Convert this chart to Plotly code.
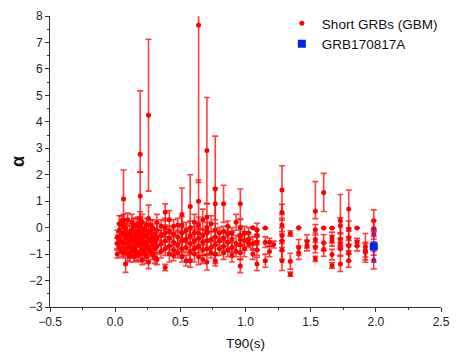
"""Spectral index alpha versus T90 for short GRBs observed by Fermi/GBM."""

import plotly.graph_objects as go

# ---- short GRBs (GBM): T90 [s], alpha, upper / lower error ----
t90 = [
    0.016, 0.016, 0.016,
    0.032, 0.032, 0.032, 0.032,
    0.048, 0.048, 0.048, 0.048,
    0.064, 0.064, 0.064, 0.064, 0.064, 0.064,
    0.080, 0.080, 0.080, 0.080, 0.080,
    0.096, 0.096, 0.096, 0.096,
    0.112, 0.112, 0.112, 0.112,
    0.128, 0.128, 0.128, 0.128, 0.128,
    0.144, 0.144, 0.144, 0.144, 0.144,
    0.160, 0.160, 0.160, 0.160, 0.160,
    0.176, 0.176, 0.176, 0.176, 0.176,
    0.192, 0.192, 0.192, 0.192, 0.192, 0.192, 0.192, 0.192,
    0.208, 0.208, 0.208, 0.208, 0.208, 0.208,
    0.224, 0.224, 0.224, 0.224,
    0.240, 0.240, 0.240, 0.240, 0.240,
    0.256, 0.256, 0.256, 0.256, 0.256, 0.256,
    0.272, 0.272, 0.272, 0.272,
    0.288, 0.288, 0.288, 0.288,
    0.304, 0.304, 0.304, 0.304,
    0.320, 0.320, 0.320, 0.320, 0.320,
    0.352, 0.352, 0.352, 0.352,
    0.384, 0.384, 0.384, 0.384, 0.384, 0.384,
    0.416, 0.416, 0.416, 0.416, 0.416,
    0.448, 0.448, 0.448, 0.448, 0.448,
    0.480, 0.480, 0.480, 0.480,
    0.512, 0.512, 0.512, 0.512, 0.512, 0.512,
    0.544, 0.544, 0.544, 0.544,
    0.576, 0.576, 0.576, 0.576, 0.576, 0.576,
    0.608, 0.608, 0.608, 0.608, 0.608,
    0.640, 0.640, 0.640, 0.640, 0.640, 0.640, 0.640,
    0.672, 0.672, 0.672, 0.672, 0.672,
    0.704, 0.704, 0.704, 0.704, 0.704, 0.704, 0.704,
    0.736, 0.736, 0.736, 0.736,
    0.768, 0.768, 0.768, 0.768, 0.768, 0.768, 0.768,
    0.800, 0.800, 0.800,
    0.832, 0.832, 0.832, 0.832, 0.832,
    0.864, 0.864, 0.864, 0.864,
    0.896, 0.896, 0.896, 0.896,
    0.928, 0.928, 0.928,
    0.960, 0.960, 0.960, 0.960, 0.960, 0.960, 0.960,
    0.992, 0.992, 0.992,
    1.024, 1.024, 1.024,
    1.056, 1.056, 1.056,
    1.088, 1.088, 1.088, 1.088, 1.088,
    1.152, 1.152, 1.152,
    1.184, 1.184,
    1.216,
    1.280, 1.280, 1.280, 1.280, 1.280, 1.280, 1.280,
    1.344, 1.344, 1.344,
    1.408, 1.408, 1.408,
    1.472, 1.472,
    1.536, 1.536, 1.536, 1.536, 1.536,
    1.600, 1.600, 1.600, 1.600,
    1.664, 1.664, 1.664, 1.664, 1.664,
    1.728, 1.728, 1.728, 1.728, 1.728, 1.728,
    1.792, 1.792, 1.792, 1.792, 1.792, 1.792,
    1.856, 1.856, 1.856,
    1.920, 1.920, 1.920,
    1.984, 1.984, 1.984, 1.984, 1.984,
]
alpha = [
    -1.0, -0.35, -0.6,
    -0.45, -0.1, -0.75, 0.15,
    -0.2, 0.25, -0.55, -0.9,
    1.08, 0.3, -0.25, -0.6, 0.05, -0.95,
    -1.37, -0.4, -0.8, 0.0, -0.15,
    -0.6, -0.3, -1.0, 0.3,
    -0.75, -0.2, -0.5, -1.1,
    -0.55, -0.9, -0.1, -0.35, 0.2,
    -0.8, -0.45, -1.1, 0.05, -0.6,
    -0.6, -0.25, -0.95, -0.7, 0.1,
    -0.4, 0.15, -1.05, -0.55, -0.2,
    2.77, 1.2, 0.3, -0.3, -0.65, -1.0, -0.15, 0.05,
    -0.5, -0.8, 0.2, -0.2, -1.2, -0.6,
    -0.35, -0.7, -0.05, -0.95,
    -0.6, 0.1, -0.3, -1.1, -0.8,
    4.25, 0.35, -0.45, -0.75, -0.15, -1.3,
    -0.5, -0.9, -0.2, 0.1,
    -0.35, -0.65, -1.0, 0.0,
    -0.55, -0.8, -0.25, -1.15,
    -0.4, -0.7, -1.2, 0.2, -0.1,
    -0.6, -0.9, -0.3, 0.05,
    -1.51, 0.58, -0.5, -0.8, -0.2, 0.0,
    -0.4, -0.7, -1.0, 0.3, -0.15,
    -0.55, -0.85, -0.25, -1.05, 0.05,
    -0.35, -0.65, 0.1, -0.95,
    0.5, -0.5, -0.8, -0.2, -1.1, 0.1,
    -0.45, -0.75, -0.1, -1.25,
    0.8, -0.3, -0.6, -0.9, -1.25, 0.0,
    -0.5, -0.8, -0.2, -1.0, 0.2,
    7.66, 1.0, -0.4, -0.7, -1.1, 0.1, -0.2,
    -0.55, -0.85, -0.3, 0.3, -1.2,
    2.92, 0.4, -0.5, -0.8, -1.3, -0.2, 0.0,
    -0.45, -0.75, 0.15, -0.95,
    1.46, 0.9, -0.35, -0.65, -1.0, -0.1, -1.25,
    -0.5, -0.8, -0.2,
    0.9, -0.4, -0.7, -0.95, -0.15,
    -0.55, -0.85, -0.25, 0.05,
    -0.45, -0.75, -1.05, -0.2,
    0.2, -0.6, -0.9,
    0.9, -0.3, -0.65, -0.95, 0.0, -0.45, -1.45,
    -0.5, -0.8, -0.2,
    -0.2, -0.45, -0.6,
    0.0, -0.6, -1.0,
    -0.09, -0.55, -0.85, -1.37, -0.3,
    -0.01, -0.55, -1.25,
    -0.55, -0.9,
    -0.64,
    1.42, 0.58, 0.1, -0.3, -0.5, -0.85, -1.25,
    -0.22, -1.27, -1.76,
    0.0, -0.75, -0.95,
    -0.52, -0.68,
    0.62, -0.08, -0.45, -0.75, -1.18,
    1.33, -0.01, -0.57, -0.83,
    -0.01, -0.37, -0.5, -1.02, -1.43,
    0.26, 0.07, -0.44, -0.6, -0.8, -1.37,
    0.7, -0.05, -0.38, -0.68, -0.97, -1.25,
    -0.01, -0.55, -0.68,
    -0.72, -0.86, -0.93,
    0.26, -0.03, -0.24, -0.79, -1.23,
]
err_hi = [
    0.15, 0.25, 0.2,
    0.3, 0.25, 0.2, 0.3,
    0.35, 0.2, 0.25, 0.2,
    1.1, 0.2, 0.3, 0.2, 0.25, 0.2,
    0.32, 0.35, 0.2, 0.2, 0.3,
    0.3, 0.2, 0.25, 0.25,
    0.25, 0.3, 0.2, 0.2,
    0.3, 0.2, 0.25, 0.2, 0.3,
    0.25, 0.35, 0.2, 0.3, 0.2,
    0.3, 0.25, 0.3, 0.2, 0.25,
    0.3, 0.25, 0.2, 0.2, 0.25,
    2.4, 0.9, 0.3, 0.3, 0.25, 0.3, 0.2, 0.35,
    0.3, 0.25, 0.3, 0.2, 0.2, 0.2,
    0.3, 0.2, 0.25, 0.3,
    0.35, 0.25, 0.2, 0.25, 0.2,
    2.87, 0.5, 0.3, 0.25, 0.2, 0.25,
    0.3, 0.2, 0.3, 0.2,
    0.25, 0.3, 0.2, 0.3,
    0.25, 0.3, 0.2, 0.2,
    0.3, 0.25, 0.2, 0.3, 0.25,
    0.3, 0.25, 0.2, 0.25,
    0.12, 0.32, 0.3, 0.25, 0.3, 0.35,
    0.3, 0.25, 0.3, 0.35, 0.2,
    0.3, 0.2, 0.3, 0.2, 0.25,
    0.25, 0.3, 0.25, 0.2,
    1.0, 0.3, 0.25, 0.2, 0.2, 0.3,
    0.3, 0.2, 0.3, 0.2,
    1.2, 0.3, 0.25, 0.3, 0.25, 0.25,
    0.3, 0.2, 0.25, 0.3, 0.3,
    5.95, 0.8, 0.35, 0.25, 0.3, 0.3, 0.2,
    0.3, 0.2, 0.25, 0.4, 0.15,
    2.0, 0.5, 0.35, 0.25, 0.3, 0.25, 0.2,
    0.3, 0.25, 0.3, 0.2,
    2.0, 0.6, 0.3, 0.3, 0.35, 0.25, 0.2,
    0.3, 0.25, 0.2,
    0.7, 0.3, 0.2, 0.25, 0.2,
    0.35, 0.25, 0.3, 0.2,
    0.3, 0.2, 0.25, 0.2,
    0.3, 0.3, 0.2,
    0.56, 0.35, 0.3, 0.25, 0.3, 0.2, 0.25,
    0.35, 0.3, 0.25,
    0.2, 0.25, 0.15,
    0.0, 0.25, 0.2,
    0.25, 0.3, 0.2, 0.25, 0.2,
    0.0, 0.2, 0.25,
    0.15, 0.2,
    0.13,
    0.92, 0.3, 0.25, 0.3, 0.25, 0.35, 0.37,
    0.1, 0.3, 0.08,
    0.0, 0.3, 0.25,
    0.25, 0.2,
    1.12, 0.2, 0.25, 0.2, 0.1,
    0.72, 0.0, 0.3, 0.25,
    0.0, 0.2, 0.2, 0.2, 0.1,
    0.99, 0.3, 0.25, 0.2, 0.25, 0.29,
    0.72, 0.3, 0.25, 0.2, 0.3, 0.25,
    0.0, 0.15, 0.2,
    0.5, 0.25, 0.38,
    0.41, 0.3, 0.2, 0.25, 0.33,
]
err_lo = list(err_hi)
# the few asymmetric bars
err_lo[t90.index(0.192)] = 0.67
err_lo[t90.index(1.536)] = 0.28

# ---- GRB170817A ----
grb_t90 = [1.984]
grb_alpha = [-0.71]
grb_err_hi = [0.62]
grb_err_lo = [0.60]

fig = go.Figure()
fig.add_trace(
    go.Scatter(
        x=t90,
        y=alpha,
        mode="markers",
        name="Short GRBs (GBM)",
        marker=dict(color="#ff0000", size=5, symbol="circle"),
        error_y=dict(
            type="data",
            symmetric=False,
            array=err_hi,
            arrayminus=err_lo,
            color="rgba(255,0,0,0.75)",
            thickness=1.6,
            width=3,
        ),
    )
)
fig.add_trace(
    go.Scatter(
        x=grb_t90,
        y=grb_alpha,
        mode="markers",
        name="GRB170817A",
        marker=dict(color="#0022ee", size=8, symbol="square"),
        error_y=dict(
            type="data",
            symmetric=False,
            array=grb_err_hi,
            arrayminus=grb_err_lo,
            color="rgba(40,60,255,0.75)",
            thickness=1.5,
            width=3,
        ),
    )
)

axis_style = dict(
    showline=True,
    linecolor="#333",
    linewidth=1,
    ticks="outside",
    ticklen=4,
    tickcolor="#333",
    showgrid=False,
    zeroline=False,
    mirror=False,
    automargin=False,
    tickfont=dict(size=12, color="#222"),
)

# the page body adds an 8px offset, so the figure is 8px smaller than the window
fig.update_layout(
    width=455,
    height=347,
    margin=dict(l=42, r=22, t=8, b=48, autoexpand=False),
    plot_bgcolor="white",
    paper_bgcolor="white",
    font=dict(family="Liberation Sans, Arial, sans-serif", color="#111"),
    showlegend=True,
    legend=dict(
        x=0.593,
        y=1.0,
        xanchor="left",
        yanchor="top",
        yref="container",
        font=dict(size=13.5, color="#111"),
        bgcolor="rgba(0,0,0,0)",
        itemwidth=30,
        tracegroupgap=0,
    ),
)
fig.update_xaxes(
    range=[-0.5, 2.5],
    dtick=0.5,
    tickformat=".1f",
    minor=dict(dtick=0.25, ticks="outside", ticklen=2, tickcolor="#333"),
    title=dict(text="T90(s)", font=dict(size=13.5), standoff=10),
    **axis_style,
)
fig.update_yaxes(
    range=[-3, 8],
    dtick=1,
    minor=dict(dtick=0.5, ticks="outside", ticklen=2, tickcolor="#333"),
    title=dict(text="<b>α</b>", font=dict(size=18), standoff=8),
    **axis_style,
)

fig.write_html("out.html")
